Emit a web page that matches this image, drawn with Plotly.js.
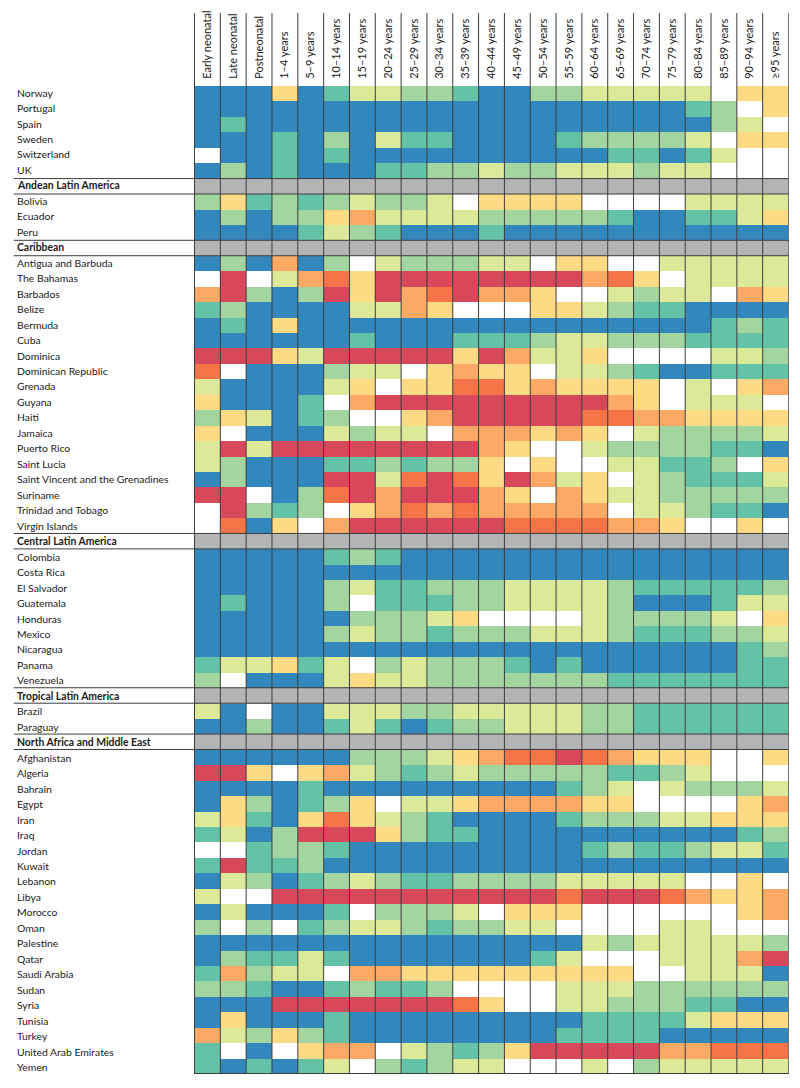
<!DOCTYPE html>
<html><head><meta charset="utf-8">
<script src="https://cdn.plot.ly/plotly-3.0.1.min.js"></script>
<style>html,body{margin:0;padding:0;background:#fff}</style></head>
<body><div id="chart" style="width:800px;height:1088px"></div>
<script>
// Age groups (columns)
const ageGroups = ["Early neonatal","Late neonatal","Postneonatal","1–4 years","5–9 years","10–14 years","15–19 years","20–24 years","25–29 years","30–34 years","35–39 years","40–44 years","45–49 years","50–54 years","55–59 years","60–64 years","65–69 years","70–74 years","75–79 years","80–84 years","85–89 years","90–94 years","≥95 years"];
// Class letters: B G L Y W P O R D = ordered classes 0..8; X = region header band
const classLetters = "BGLYWPORDX";
const classColors = ["#3288bd","#64c3a6","#a3d5a0","#dce999","#ffffff","#fddb85","#fca966","#f57549","#d8485b","#b3b4b6"];
const rows = [
["Norway","BBBPBGYYLLGBBLLYYYYYWPP"],
["Portugal","BBBBBBBBBBBBBBBBBBBGLWP"],
["Spain","BGBBBBBBBBBBBBBBBBBBLYW"],
["Sweden","BBBGBLBYGGBBBBGLLLLYWPP"],
["Switzerland","WBBGBGBBBBBBBBBBGGBGYWW"],
["UK","BLBGBBBGGLLYLLYYYLYYWWW"],
["Andean Latin America","XXXXXXXXXXXXXXXXXXXXXXX"],
["Bolivia","LPGLGLYLLYWPPPPWWWWYYYY"],
["Ecuador","BLBLLPOYYYYLLLLLGBBGGYP"],
["Peru","BBBBGYLGBBBGBBBBBBBBBBB"],
["Caribbean","XXXXXXXXXXXXXXXXXXXXXXX"],
["Antigua and Barbuda","BLBOBLWYLLLYYWPPWWYYYYY"],
["The Bahamas","WDWYORPDDDDDDDDORPWYYYY"],
["Barbados","ODLBLDPDORDOOPWWYLYYWOP"],
["Belize","GLBBBBYYOPWWWPPYLGGBBBB"],
["Bermuda","BGBPBBBBBBBBBBBBBBBBGLG"],
["Cuba","BBBBBBGBBBGGGLYYLLLGGGG"],
["Dominica","DDDPYDDDDDPDOYYPWWWWYYL"],
["Dominican Republic","RWBBBLYYWPOPPWYYLGBBGGG"],
["Grenada","YBBBBYPWPPRRPOPPPPWYWPO"],
["Guyana","PBBBGWODDDDDDDDDOPWYYYW"],
["Haiti","LPYBGLWWPODDDDDRROOPPPP"],
["Jamaica","PWBBBYLYYWOOOPOPWYLLLLY"],
["Puerto Rico","YDYDDDDDDDDOPWWYLLLLGGB"],
["Saint Lucia","YLBBBGGLGLLPWPWWYYGGLWP"],
["Saint Vincent and the Grenadines","BLBBBDDYRDRPDOYPWYLGGGY"],
["Suriname","DDWBLRDODDDOPWOPYYLLLLL"],
["Trinidad and Tobago","WDLGLWPOROROOOOOWYYLGGB"],
["Virgin Islands","WRBPWODDDDDDRRRROOPWWPW"],
["Central Latin America","XXXXXXXXXXXXXXXXXXXXXXX"],
["Colombia","BBBBBGLGBBBBBBBBBBBBBBB"],
["Costa Rica","BBBBBBBBBBBBBBBBBBBBBBB"],
["El Salvador","BBBBBLYGGLLLYYYYLGGGGGL"],
["Guatemala","BGBBBLWGGGLLYYYYLBBBGYY"],
["Honduras","BBBBBBLLLYPWWWWYLLLLYWP"],
["Mexico","BBBBBLYLLGLLLYYYLGGGLLY"],
["Nicaragua","BBBBBBBBBBBBBBBBBBBBBGL"],
["Panama","GYYPGYWLYLLLGBGBBBBBBGG"],
["Venezuela","LWBBBYPYYLLLLLLLGGGGGGG"],
["Tropical Latin America","XXXXXXXXXXXXXXXXXXXXXXX"],
["Brazil","YBWBBYYYLLYYYYYLLGGGGGG"],
["Paraguay","BBLBBGYGBGLLYYYLLGGGGGG"],
["North Africa and Middle East","XXXXXXXXXXXXXXXXXXXXXXX"],
["Afghanistan","BBBBBBLLLYPORRDROPPPWWP"],
["Algeria","DDPWPOYLGLYLLLLLGGLYWWW"],
["Bahrain","BBBBGBBBBBBBBBGLYWYLLLY"],
["Egypt","BPLBGLPWYYPOOOOPPWWWWPO"],
["Iran","YPGBPRPYLGBBBBGLLLYYPPP"],
["Iraq","GYBLDDDPLGGBBBBBBBBBBGL"],
["Jordan","WWGLLGBBBBBBBBBGLGGLYYG"],
["Kuwait","GDGGLBBBBBBBBBBBBBBBBBB"],
["Lebanon","BYLBGLYLGGLLLLYYYYYWWPW"],
["Libya","YWWDDDDDDDDDDDRDDDROPPO"],
["Morocco","BYBBBGWLLLYWPPPWWWWWWPO"],
["Oman","LWLWGLYYLGLLYYWWWWYYWWW"],
["Palestine","BBBBBBBBBBBBBBBYLYYYYYL"],
["Qatar","BLGGYGBBBBBBBGYWWWYYYOD"],
["Saudi Arabia","GOLYYWOOPPPPPPPPPWWYYYB"],
["Sudan","LLGBBGLGGLWWWWYYYLLLLLL"],
["Syria","BBBDDDDDDDRPWWYYLLLGGBB"],
["Tunisia","BPBBBGBBBBBBBBBGGGGYPPP"],
["Turkey","OYLPLGBBBBBBBBGGGGBBBBB"],
["United Arab Emirates","GWBWPOOWYLGLPDDDDDOORRR"],
["Yemen","GBGBGYWLGLYYWWWYWLYYYYY"]
];
const rowNames = rows.map(r => r[0]);
const z = rows.map(r => r[1].split("").map(c => classLetters.indexOf(c)));
const n = classColors.length;
const colorscale = [];
classColors.forEach((c,i)=>{colorscale.push([i/n,c]);colorscale.push([(i+1)/n,c]);});

const W=800,H=1088,L=193.8,R=789,T=86,B=1074;
const pw=R-L, ph=B-T;
const rowH=ph/rows.length;
const shapes=[], annotations=[];
const line={color:"#3d3d3d",width:1};
const labelFont="Lato, sans-serif";
// vertical rules between columns, running up through the header labels
for(let i=0;i<=ageGroups.length;i++){
  shapes.push({type:"line",xref:"x",yref:"paper",x0:i-0.5,x1:i-0.5,y0:0,y1:1+(T-13)/ph,line:{color:i==ageGroups.length?"#777":"#3d3d3d",width:1}});
}
rows.forEach((r,i)=>{
  const head=r[1][0]==="X";
  // the reference's row labels run on a slightly wider pitch than its cells
  const drift=(92.6+15.476*i)-(T+rowH*(i+0.5));
  annotations.push({xref:"paper",yref:"y",x:(16-L)/pw,y:r[0],xanchor:"left",yanchor:"middle",showarrow:false,xshift:-1,yshift:-drift,
    text:head?"<b>"+r[0]+"</b>":r[0],font:{family:labelFont,size:10.4,color:"#1a1a1a"}});
  if(head){
    [i-0.5,i+0.5].forEach(y=>shapes.push({type:"line",xref:"paper",yref:"y",x0:(13.5-L)/pw,x1:1,y0:y,y1:y,line}));
  }
});
shapes.push({type:"line",xref:"paper",yref:"y",x0:0,x1:1,y0:rows.length-0.5,y1:rows.length-0.5,line});

Plotly.newPlot("chart",[{type:"heatmap",x:ageGroups,y:rowNames,z:z,zmin:0,zmax:n,colorscale:colorscale,showscale:false,xgap:0,ygap:0,
  hovertemplate:"%{y}, %{x}<extra></extra>"}],{
  width:W,height:H,margin:{l:L,r:W-R,t:T,b:H-B,pad:0},
  paper_bgcolor:"#fff",plot_bgcolor:"#fff",showlegend:false,
  xaxis:{type:"category",side:"top",tickangle:-90,ticks:"outside",ticklen:4,tickcolor:"rgba(0,0,0,0)",showgrid:false,zeroline:false,showline:false,
    tickfont:{family:labelFont,size:11,color:"#1a1a1a"}},
  yaxis:{type:"category",autorange:"reversed",showticklabels:false,ticks:"",showgrid:false,zeroline:false,showline:false},
  shapes,annotations
},{displayModeBar:false,staticPlot:true});
</script></body></html>
